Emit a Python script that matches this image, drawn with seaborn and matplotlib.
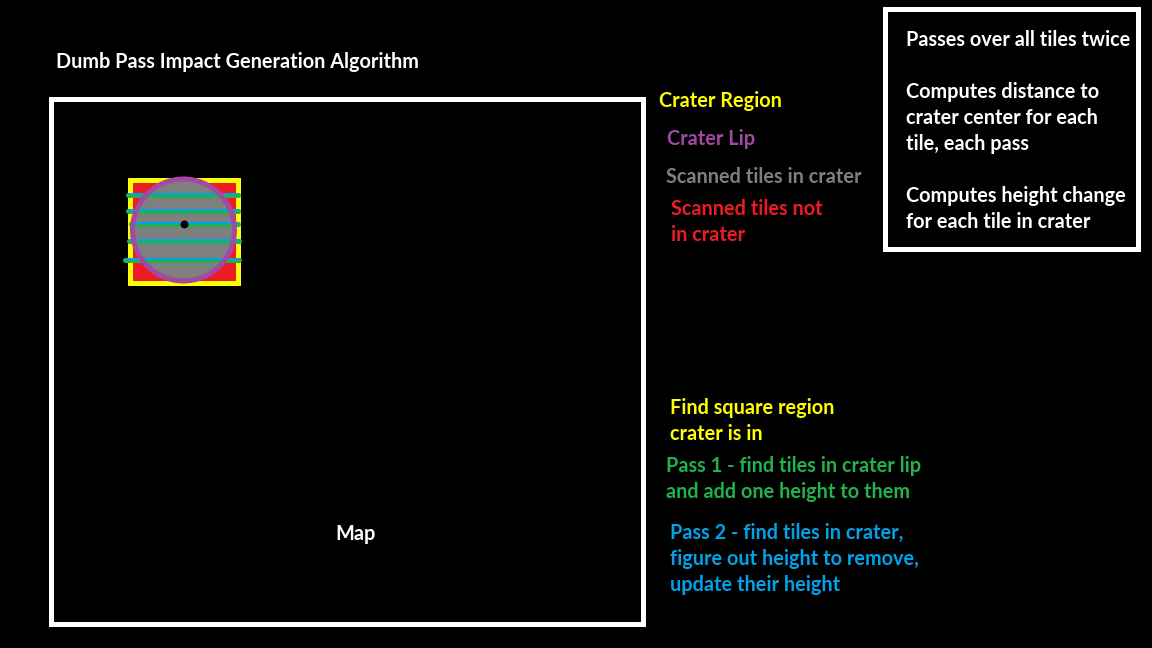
import matplotlib
matplotlib.use("Agg")
import matplotlib.pyplot as plt
from matplotlib.patches import Rectangle, Circle
import numpy as np
import pandas as pd
import seaborn as sns

# ── palette (MS Paint style) ────────────────────────────────────────────────
YELLOW = "#ffff00"
PURPLE = "#a349a4"
GRAY = "#7f7f7f"
RED = "#ed1c24"
GREEN = "#22b14c"
BLUE = "#00a2e8"
WHITE = "#ffffff"

# ── data (pixel space, y grows downward) ────────────────────────────────────
MAP_BOX = [50.5, 98.5, 642.5, 623.5]      # x0, y0, x1, y1 (border centre)
INFO_BOX = [884.5, 8.5, 1137.5, 248.5]
REGION_BOX = [127, 177, 240, 285]
CRATER_CENTER = [183.5, 230]
CRATER_RADIUS = 51
CRATER_DOT = [184, 224]

SCAN_Y = [195, 211, 224, 241, 260]
SCAN_X0 = [128, 128, 131, 129, 125]
SCAN_X1 = [238, 238, 238, 239, 239]

TITLE = "Dumb Pass Impact Generation Algorithm"
MAP_LABEL = "Map"

LEGEND_TEXT = [
    ("Crater Region", 659, 101, YELLOW),
    ("Crater Lip", 667, 139, PURPLE),
    ("Scanned tiles in crater", 666, 177, GRAY),
    ("Scanned tiles not\nin crater", 671, 222, RED),
    ("Find square region\ncrater is in", 670, 421, YELLOW),
    ("Pass 1 - find tiles in crater lip\nand add one height to them", 666, 479, GREEN),
    ("Pass 2 - find tiles in crater,\nfigure out height to remove,\nupdate their height", 670, 559, BLUE),
]
INFO_TEXT = [
    ("Passes over all tiles twice", 40),
    ("Computes distance to\ncrater center for each\ntile, each pass", 118),
    ("Computes height change\nfor each tile in crater", 209),
]

W, H = 1152, 648

sns.set_style("dark")
plt.rcParams["font.family"] = ["Lato", "DejaVu Sans"]
plt.rcParams["font.weight"] = "bold"

fig = plt.figure(figsize=(W / 100, H / 100), dpi=100)
fig.patch.set_facecolor("black")
ax = fig.add_axes([0, 0, 1, 1])
ax.set_facecolor("black")
ax.set_xlim(0, W)
ax.set_ylim(H, 0)
ax.axis("off")

PX = 0.72  # one pixel in points at dpi 100

# outline boxes
for x0, y0, x1, y1 in (MAP_BOX, INFO_BOX):
    ax.add_patch(Rectangle((x0, y0), x1 - x0, y1 - y0, fill=False,
                           edgecolor=WHITE, linewidth=5 * PX, joinstyle="miter"))

# crater region: yellow frame, red fill
rx0, ry0, rx1, ry1 = REGION_BOX
ax.add_patch(Rectangle((rx0 + 2.5, ry0 + 2.5), rx1 - rx0 - 5, ry1 - ry0 - 5,
                       facecolor=RED, edgecolor=YELLOW, linewidth=5 * PX,
                       joinstyle="miter"))

# crater interior
ax.add_patch(Circle(CRATER_CENTER, CRATER_RADIUS, facecolor=GRAY, edgecolor="none"))

# scan lines (pass 1 green, pass 2 blue on top)
rows = []
for i, (y, x0, x1) in enumerate(zip(SCAN_Y, SCAN_X0, SCAN_X1)):
    rows.append({"line": i, "x": x0, "y": y})
    rows.append({"line": i, "x": x1, "y": y})
scan = pd.DataFrame(rows)
sns.lineplot(data=scan, x="x", y="y", units="line", estimator=None,
             color=GREEN, linewidth=5 * PX, ax=ax, legend=False,
             solid_capstyle="round")
scan_b = scan.assign(y=scan["y"] - 1)
sns.lineplot(data=scan_b, x="x", y="y", units="line", estimator=None,
             color=BLUE, linewidth=2 * PX, ax=ax, legend=False)

# crater lip
ax.add_patch(Circle(CRATER_CENTER, CRATER_RADIUS, facecolor="none",
                    edgecolor=PURPLE, linewidth=5 * PX, zorder=3))

# crater center dot
sns.scatterplot(x=[CRATER_DOT[0]], y=[CRATER_DOT[1]], color="black", s=32,
                linewidth=0, ax=ax, legend=False, zorder=5)

ax.set_xlim(0, W)
ax.set_ylim(H, 0)
ax.set_xlabel("")
ax.set_ylabel("")

FS = 14.3
LS = 1.39
ax.text(56, 62, TITLE, color=WHITE, fontsize=FS, fontweight="bold",
        ha="left", va="center")
ax.text(356, 534, MAP_LABEL, color=WHITE, fontsize=FS, fontweight="bold",
        ha="center", va="center")

for txt, x, y, c in LEGEND_TEXT:
    ax.text(x, y, txt, color=c, fontsize=FS, fontweight="bold",
            ha="left", va="center", linespacing=LS)

for txt, y in INFO_TEXT:
    ax.text(906, y, txt, color=WHITE, fontsize=FS, fontweight="bold",
            ha="left", va="center", linespacing=LS)

fig.savefig("out.png", dpi=100, facecolor=fig.get_facecolor())
plt.close(fig)
